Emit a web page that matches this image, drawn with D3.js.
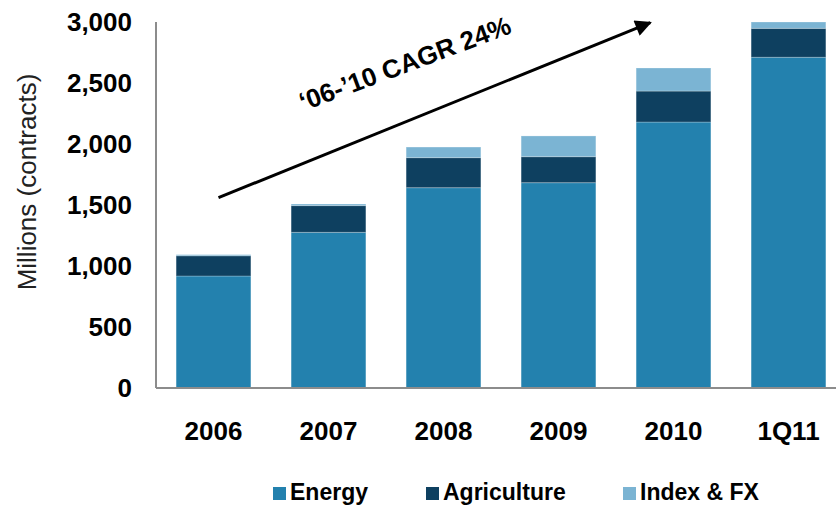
<!DOCTYPE html>
<html>
<head>
<meta charset="utf-8">
<script src="https://cdn.jsdelivr.net/npm/d3@7"></script>
<style>
  html, body { margin: 0; padding: 0; background: #fff; }
  svg { display: block; font-family: "Liberation Sans", Arial, sans-serif; }
</style>
</head>
<body>
<svg id="chart" width="836" height="505"></svg>
<script>
const categories = ["2006", "2007", "2008", "2009", "2010", "1Q11"];
const energy      = [918, 1276, 1642, 1683, 2180, 2711];
const agriculture = [166, 219, 246, 213, 254, 237];
const indexFx     = [9, 13, 87, 170, 189, 52];
const seriesNames = ["Energy", "Agriculture", "Index & FX"];
const seriesColors = ["#2381ae", "#0e4060", "#7bb4d3"];
const yTicks = [0, 500, 1000, 1500, 2000, 2500, 3000];
const annotationText = "\u201806-\u201910 CAGR 24%";

(function () {
const svg = d3.select("#chart");
const W = 836, H = 505;
const mLeft = 156, mRight = 846, mTop = 22, mBottom = 388;

const x = d3.scaleBand().domain(categories).range([mLeft, mRight]).paddingInner(0.35).paddingOuter(0.175);
const y = d3.scaleLinear().domain([0, 3000]).range([mBottom, mTop]);

const table = categories.map((c, i) => ({ cat: c, Energy: energy[i], Agriculture: agriculture[i], "Index & FX": indexFx[i] }));
const stacked = d3.stack().keys(seriesNames)(table);

const g = svg.append("g");
stacked.forEach((layer, li) => {
  g.append("g").selectAll("rect").data(layer).join("rect")
    .attr("x", d => x(d.data.cat))
    .attr("width", x.bandwidth())
    .attr("y", d => y(d[1]))
    .attr("height", d => y(d[0]) - y(d[1]))
    .attr("fill", seriesColors[li])
    .attr("stroke", "rgba(255,255,255,0.25)")
    .attr("stroke-width", 1);
});

// Y axis
const yAxis = d3.axisLeft(y).tickValues(yTicks).tickSize(0).tickPadding(24).tickFormat(d3.format(","));
const ya = svg.append("g").attr("transform", `translate(${mLeft},0)`).call(yAxis);
ya.select(".domain").attr("stroke", "#8c8c8c").attr("stroke-width", 2).attr("d", `M0,${mTop}V${mBottom}`);
ya.selectAll("text").attr("font-size", 26).attr("font-weight", "bold").attr("fill", "#000")
  .attr("font-family", "'Liberation Sans', Arial, sans-serif");

// X axis
const xAxis = d3.axisBottom(x).tickSize(0).tickPadding(34);
const xa = svg.append("g").attr("transform", `translate(0,${mBottom})`).call(xAxis);
xa.select(".domain").attr("stroke", "#8c8c8c").attr("stroke-width", 2).attr("d", `M${mLeft},0H${W}`);
xa.selectAll("text").attr("font-size", 26).attr("font-weight", "bold").attr("fill", "#000")
  .attr("font-family", "'Liberation Sans', Arial, sans-serif");

// Y title
svg.append("text")
  .attr("transform", `translate(36,${(mTop + mBottom) / 2 - 23}) rotate(-90)`)
  .attr("text-anchor", "middle")
  .attr("font-size", 26)
  .attr("fill", "#222")
  .text("Millions (contracts)");

// Arrow annotation
const defs = svg.append("defs");
defs.append("marker").attr("id", "ah").attr("viewBox", "0 0 10 10").attr("refX", 9).attr("refY", 5)
  .attr("markerWidth", 6.5).attr("markerHeight", 5.5).attr("markerUnits", "strokeWidth").attr("orient", "auto")
  .append("path").attr("d", "M0,0L10,5L0,10Z").attr("fill", "#000");
const ax1 = x("2006") + x.bandwidth() / 2 + 5, ay1 = y(1560);
const ax2 = x("2010") + x.bandwidth() * 0.19, ay2 = y(2995);
svg.append("line").attr("x1", ax1).attr("y1", ay1).attr("x2", ax2).attr("y2", ay2)
  .attr("stroke", "#000").attr("stroke-width", 3).attr("marker-end", "url(#ah)");

const angle = Math.atan2(ay2 - ay1, ax2 - ax1) * 180 / Math.PI + 1.5;
svg.append("text")
  .attr("transform", `translate(${x("2008") + 2},${y(2590)}) rotate(${angle})`)
  .attr("text-anchor", "middle")
  .attr("font-size", 26).attr("font-weight", "bold").attr("fill", "#000")
  .text(annotationText);

// Legend
const legendX = [273, 426, 623];
const lg = svg.append("g");
seriesNames.forEach((n, i) => {
  lg.append("rect").attr("x", legendX[i]).attr("y", 487).attr("width", 13).attr("height", 13).attr("fill", seriesColors[i]);
  lg.append("text").attr("x", legendX[i] + 17).attr("y", 500).attr("font-size", 23).attr("font-weight", "bold")
    .attr("fill", "#000").text(n);
});
})();
</script>
</body>
</html>
